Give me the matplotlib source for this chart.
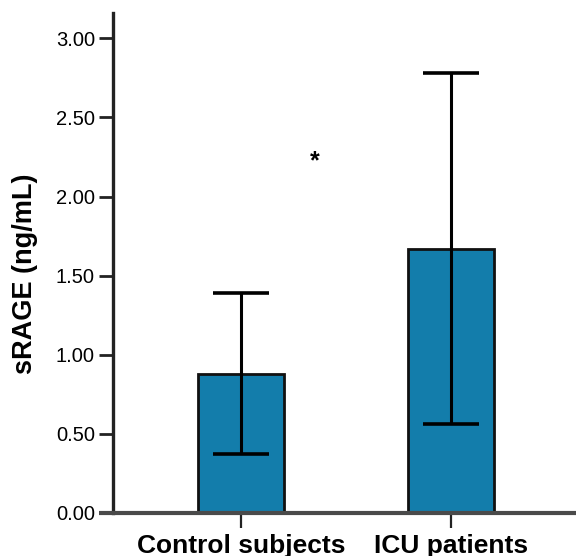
import matplotlib
matplotlib.use("Agg")
import matplotlib.pyplot as plt
import numpy as np

categories = ["Control subjects", "ICU patients"]
means = [0.88, 1.67]
errors = [0.51, 1.11]
yticks = [0.0, 0.5, 1.0, 1.5, 2.0, 2.5, 3.0]
ylabel = "sRAGE (ng/mL)"
star_label = "*"

plt.rcParams["font.family"] = ["Liberation Sans", "DejaVu Sans"]

fig = plt.figure(figsize=(5.76, 5.56), dpi=100)
ax = fig.add_axes([113/576, 43/556, 1 - 113/576, (513 - 13)/556])

x = np.arange(len(categories))
ax.bar(x, means, width=0.41, color="#137dab", edgecolor="#111111", linewidth=2, zorder=2)
ax.errorbar(x, means, yerr=errors, fmt="none", ecolor="black", elinewidth=2.2,
            capsize=20.5, capthick=2.6, zorder=3)

ax.set_xlim(-0.61, 1.595)
ax.set_ylim(0, 3.16)
ax.set_yticks(yticks)
ax.set_yticklabels([f"{v:.2f}" for v in yticks], fontsize=14.5)
ax.set_xticks(x)
ax.set_xticklabels(categories, fontsize=19, fontweight="bold")
ax.set_ylabel(ylabel, fontsize=19.5, fontweight="bold")
ax.yaxis.set_label_coords(-0.162, 0.478)

ax.tick_params(axis="y", length=10, width=2, pad=3, color="#222222")
ax.tick_params(axis="x", length=11, width=1.6, pad=4, color="#222222")

for s in ["top", "right"]:
    ax.spines[s].set_visible(False)
ax.spines["left"].set_linewidth(2.4)
ax.spines["left"].set_color("#222222")
ax.spines["bottom"].set_visible(False)
ax.plot([(99 - 113) / 463, 1.0], [0, 0], transform=ax.transAxes, color="#4a4a4a",
        linewidth=3, clip_on=False, zorder=4, solid_capstyle="butt")

ax.text(0.352, 2.225, star_label, ha="center", va="center", fontsize=18, fontweight="bold")

fig.savefig("out.png", dpi=100)
